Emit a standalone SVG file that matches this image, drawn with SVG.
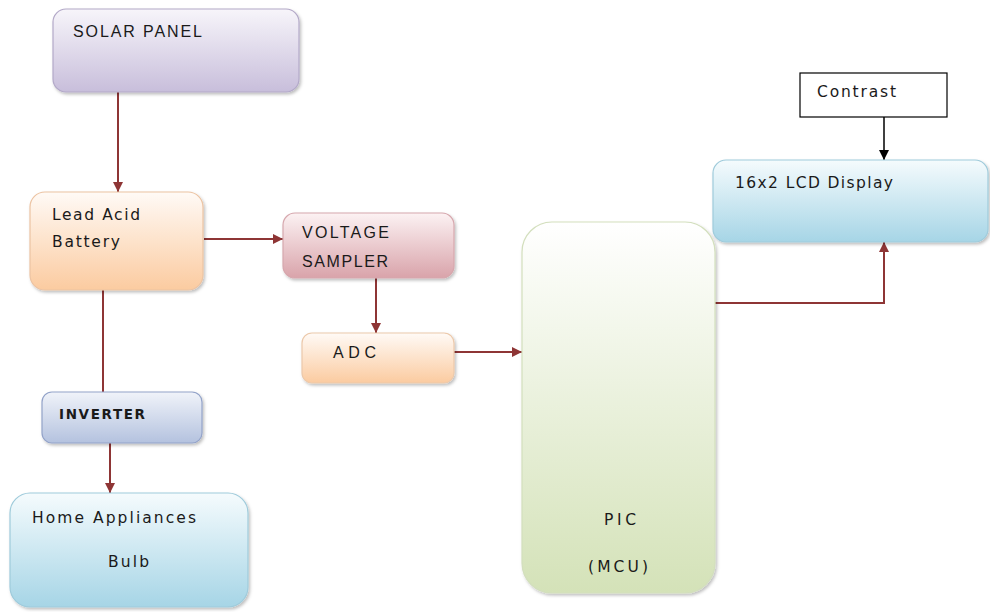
<svg xmlns="http://www.w3.org/2000/svg" width="990" height="612" viewBox="0 0 990 612">
  <defs>
    <linearGradient id="gPurple" x1="0" y1="0" x2="0" y2="1">
      <stop offset="0" stop-color="#f7f5fa"/>
      <stop offset="1" stop-color="#c8bedb"/>
    </linearGradient>
    <linearGradient id="gPeach" x1="0" y1="0" x2="0" y2="1">
      <stop offset="0" stop-color="#fffaf6"/>
      <stop offset="1" stop-color="#fbcba0"/>
    </linearGradient>
    <linearGradient id="gPink" x1="0" y1="0" x2="0" y2="1">
      <stop offset="0" stop-color="#fcf2f3"/>
      <stop offset="1" stop-color="#d9a3aa"/>
    </linearGradient>
    <linearGradient id="gBlue" x1="0" y1="0" x2="0" y2="1">
      <stop offset="0" stop-color="#f0f3f9"/>
      <stop offset="1" stop-color="#b4c2df"/>
    </linearGradient>
    <linearGradient id="gAqua" x1="0" y1="0" x2="0" y2="1">
      <stop offset="0" stop-color="#f5fbfd"/>
      <stop offset="1" stop-color="#a6d5e6"/>
    </linearGradient>
    <linearGradient id="gGreen" x1="0" y1="0" x2="0" y2="1">
      <stop offset="0" stop-color="#ffffff"/>
      <stop offset="1" stop-color="#d4e2b8"/>
    </linearGradient>
    <filter id="shadow" x="-10%" y="-10%" width="125%" height="125%">
      <feDropShadow dx="1.5" dy="2" stdDeviation="1.5" flood-color="#000" flood-opacity="0.25"/>
    </filter>
    <marker id="arrRed" viewBox="0 0 10 10" refX="10" refY="5" markerWidth="10" markerHeight="10" markerUnits="userSpaceOnUse" orient="auto">
      <path d="M0,0 L10,5 L0,10 z" fill="#8e3535"/>
    </marker>
    <marker id="arrBlack" viewBox="0 0 10 10" refX="10" refY="5" markerWidth="10" markerHeight="10" markerUnits="userSpaceOnUse" orient="auto">
      <path d="M0,0 L10,5 L0,10 z" fill="#000"/>
    </marker>
  </defs>
  <style>
    .lbl { font-family: "DejaVu Sans", "Liberation Sans", sans-serif; font-size: 15.5px; fill: #1a1a1a; }
    .caps { font-family: "Liberation Sans", Arial, sans-serif; font-size: 16px; fill: #1a1a1a; }
    .bold { font-family: "DejaVu Sans", sans-serif; font-size: 13.5px; font-weight: bold; fill: #1a1a1a; }
    .box { filter: url(#shadow); stroke-width: 1.2; }
    .wire { fill: none; stroke: #8e3535; stroke-width: 2; }
    .wire-k { fill: none; stroke: #000; stroke-width: 1.5; }
  </style>

  <rect width="990" height="612" fill="#ffffff"/>

  <!-- connectors -->
  <g id="connectors">
    <line class="wire" x1="118" y1="92" x2="118" y2="192" marker-end="url(#arrRed)"/>
    <line class="wire" x1="204" y1="239" x2="283" y2="239" marker-end="url(#arrRed)"/>
    <line class="wire" x1="376" y1="268" x2="376" y2="333" marker-end="url(#arrRed)"/>
    <line class="wire" x1="454" y1="352" x2="522" y2="352" marker-end="url(#arrRed)"/>
    <polyline class="wire" points="715,303 884,303 884,242" marker-end="url(#arrRed)"/>
    <line class="wire-k" x1="884" y1="117" x2="884" y2="160" marker-end="url(#arrBlack)"/>
    <line class="wire" x1="103" y1="290" x2="103" y2="392"/>
    <line class="wire" x1="110" y1="443" x2="110" y2="493" marker-end="url(#arrRed)"/>
  </g>

  <g id="solar-panel">
    <rect class="box" x="53" y="9" width="246" height="83" rx="13" fill="url(#gPurple)" stroke="#b3a9c8"/>
    <text class="caps" x="73" y="37" textLength="129" lengthAdjust="spacing">SOLAR PANEL</text>
  </g>

  <g id="battery">
    <rect class="box" x="30" y="192" width="173" height="98" rx="15" fill="url(#gPeach)" stroke="#ecc3a2"/>
    <text class="lbl" x="52" y="220" textLength="88" lengthAdjust="spacing">Lead Acid</text>
    <text class="lbl" x="52" y="247" textLength="68" lengthAdjust="spacing">Battery</text>
  </g>

  <g id="voltage-sampler">
    <rect class="box" x="283" y="213" width="171" height="65" rx="12" fill="url(#gPink)" stroke="#d6a7ad"/>
    <text class="caps" x="302" y="238" textLength="87" lengthAdjust="spacing">VOLTAGE</text>
    <text class="caps" x="302" y="267" textLength="86" lengthAdjust="spacing">SAMPLER</text>
  </g>

  <g id="adc">
    <rect class="box" x="302" y="333" width="152" height="50" rx="10" fill="url(#gPeach)" stroke="#ecc9ab"/>
    <text class="caps" x="333" y="358" textLength="43" lengthAdjust="spacing">ADC</text>
  </g>

  <g id="inverter">
    <rect class="box" x="42" y="392" width="160" height="51" rx="10" fill="url(#gBlue)" stroke="#93a3c9"/>
    <text class="bold" x="59" y="419" textLength="86" lengthAdjust="spacing">INVERTER</text>
  </g>

  <g id="home-appliances">
    <rect class="box" x="10" y="493" width="238" height="114" rx="20" fill="url(#gAqua)" stroke="#9fcbdb"/>
    <text class="lbl" x="32" y="523" textLength="164" lengthAdjust="spacing">Home Appliances</text>
    <text class="lbl" x="108" y="567" textLength="41" lengthAdjust="spacing">Bulb</text>
  </g>

  <g id="pic-mcu">
    <rect class="box" x="522" y="222" width="193" height="371" rx="30" fill="url(#gGreen)" stroke="#d3dfbd"/>
    <text class="lbl" x="604" y="525" textLength="32" lengthAdjust="spacing">PIC</text>
    <text class="lbl" x="588" y="572" textLength="60" lengthAdjust="spacing">(MCU)</text>
  </g>

  <g id="lcd-display">
    <rect class="box" x="713" y="160" width="275" height="82" rx="13" fill="url(#gAqua)" stroke="#9fcbdb"/>
    <text class="lbl" x="735" y="188" textLength="158" lengthAdjust="spacing">16x2 LCD Display</text>
  </g>

  <g id="contrast">
    <rect x="800" y="73" width="147" height="44" fill="#ffffff" stroke="#000" stroke-width="1.2"/>
    <text class="lbl" x="817" y="97" textLength="79" lengthAdjust="spacing">Contrast</text>
  </g>
</svg>
